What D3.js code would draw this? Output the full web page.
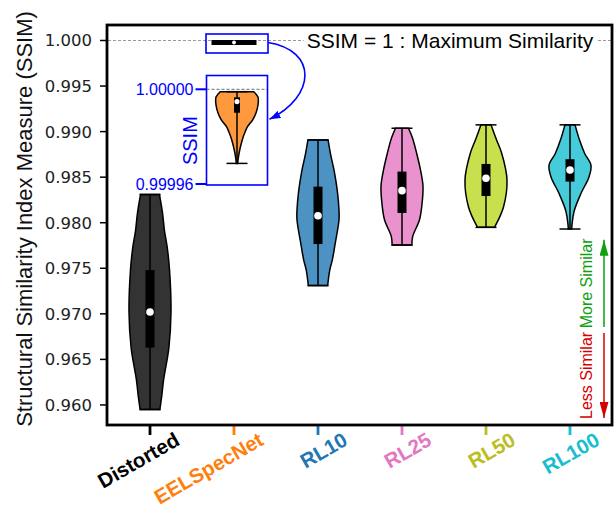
<!DOCTYPE html>
<html lang="en">
<head>
    <meta charset="UTF-8">
    <title>SSIM violins</title>
    <script src="https://d3js.org/d3.v7.min.js"></script>
    <style>
        body {
            margin: 0;
            background-color: white;
        }
        text {
            font-family: "Liberation Sans", Arial, sans-serif;
        }
        .ytick text {
            font-family: "DejaVu Sans", sans-serif;
            font-size: 16.5px;
        }
    </style>
</head>
<body>
    <div id="chart"></div>

    <script>
        // data
        const categories = ["Distorted", "EELSpecNet", "RL10", "RL25", "RL50", "RL100"];
        const tickColors = ["#000000", "#ff7f0e", "#1f77b4", "#e377c2", "#bcbd22", "#17becf"];
        const fillColors = ["#333333", "#ff993e", "#4c92c3", "#e992ce", "#c8df4e", "#45cbd9"];

        const mins    = [0.9595, 0.9999687, 0.9731,  0.97755, 0.97949, 0.97931];
        const q1s     = [0.9663, 0.9999901, 0.97766, 0.98107, 0.98293, 0.98451];
        const medians = [0.9702, 0.9999948, 0.98077, 0.98352, 0.98488, 0.98579];
        const q3s     = [0.9748, 0.9999966, 0.98396, 0.98561, 0.98645, 0.98697];
        const maxs    = [0.9831, 0.9999990, 0.98909, 0.99037, 0.99074, 0.99074];

        // violin outlines: [value, relative half width]
        const distortedProfile = [[0.9831, 0.45], [0.9810, 0.60], [0.9791, 0.69], [0.9773, 0.82], [0.9748, 0.93],
            [0.9702, 1.00], [0.9663, 0.90], [0.9628, 0.65], [0.9610, 0.56], [0.9595, 0.47]];
        const eelsProfile = [[0.9999990, 0.80], [0.9999967, 1.00], [0.9999934, 1.00], [0.9999899, 0.90],
            [0.9999870, 0.74], [0.9999842, 0.50], [0.9999814, 0.36], [0.9999786, 0.25], [0.9999731, 0.10], [0.9999687, 0.03]];
        const rl10Profile = [[0.98909, 0.48], [0.9875, 0.60], [0.9857, 0.77], [0.9835, 0.92], [0.9814, 1.00],
            [0.9803, 1.00], [0.9776, 0.81], [0.9759, 0.68], [0.9748, 0.56], [0.9731, 0.46]];
        const rl25Profile = [[0.99037, 0.31], [0.9893, 0.50], [0.9876, 0.70], [0.9858, 0.88], [0.9840, 1.00],
            [0.9820, 0.95], [0.9803, 0.83], [0.9785, 0.51], [0.97755, 0.47]];
        const rl50Profile = [[0.99074, 0.24], [0.9891, 0.50], [0.9876, 0.75], [0.9847, 1.00], [0.9817, 0.83],
            [0.9796, 0.43], [0.97949, 0.40]];
        const rl100Profile = [[0.99074, 0.24], [0.9891, 0.45], [0.9876, 0.70], [0.9863, 1.00], [0.9850, 0.90],
            [0.9832, 0.52], [0.9813, 0.20], [0.9799, 0.10], [0.97931, 0.08]];
        const profiles = [distortedProfile, eelsProfile, rl10Profile, rl25Profile, rl50Profile, rl100Profile];

        const yTicks = [0.960, 0.965, 0.970, 0.975, 0.980, 0.985, 0.990, 0.995, 1.000];
        const insetTicks = [0.99996, 1.00000];

        // direction arrows (SSIM values where they start and end)
        const moreSimilar = [0.96856, 0.97812];
        const lessSimilar = [0.96791, 0.95857];

        const width = 615;
        const height = 508;
        const margin = { top: 25, right: 3, bottom: 83, left: 108 };

        const svg = d3.select("#chart")
            .append("svg")
            .attr("width", width)
            .attr("height", height);

        const x = d3.scaleLinear()
            .domain([0.5, 6.5])
            .range([margin.left, width - margin.right]);

        const y = d3.scaleLinear()
            .domain([0.9578, 1.0017])
            .range([height - margin.bottom, margin.top]);

        const halfW = x(0.25) - x(0);
        const capW = x(0.125) - x(0);

        // arrow heads
        const defs = svg.append("defs");
        function addHead(id, color, w, l) {
            defs.append("marker")
                .attr("id", id)
                .attr("viewBox", `0 0 ${l} ${w}`)
                .attr("refX", l).attr("refY", w / 2)
                .attr("markerWidth", l).attr("markerHeight", w)
                .attr("markerUnits", "userSpaceOnUse")
                .attr("orient", "auto")
                .append("path")
                .attr("d", `M0,0 L${l},${w / 2} L0,${w} Z`)
                .attr("fill", color);
        }
        addHead("headBlue", "#0000ff", 8, 11);
        addHead("headGreen", "#10a010", 9, 16);
        addHead("headRed", "#d40000", 9, 16);

        // reference line at SSIM = 1
        svg.append("line")
            .attr("x1", margin.left).attr("x2", width - margin.right)
            .attr("y1", y(1)).attr("y2", y(1))
            .attr("stroke", "#999")
            .attr("stroke-width", 1.2)
            .attr("stroke-dasharray", "3,2");

        const note = svg.append("text")
            .attr("x", 450)
            .attr("y", y(1) + 7.5)
            .attr("text-anchor", "middle")
            .attr("font-size", "21px")
            .attr("fill", "black")
            .text("SSIM = 1 : Maximum Similarity");
        const nb = note.node().getBBox();
        svg.insert("rect", "text")
            .attr("x", nb.x - 3).attr("y", y(1) - 3)
            .attr("width", nb.width + 6).attr("height", 6)
            .attr("fill", "white");

        // violins
        function drawViolin(g, i, cx, ys) {
            const area = d3.area()
                .y(d => ys(d[0]))
                .x0(d => cx - d[1] * halfW)
                .x1(d => cx + d[1] * halfW)
                .curve(d3.curveCatmullRom);

            g.append("path")
                .attr("d", area(profiles[i]))
                .attr("fill", fillColors[i])
                .attr("stroke", "black")
                .attr("stroke-width", 1.5);

            g.append("line")
                .attr("x1", cx).attr("x2", cx)
                .attr("y1", ys(maxs[i])).attr("y2", ys(mins[i]))
                .attr("stroke", "black").attr("stroke-width", 1.5);

            [mins[i], maxs[i]].forEach(v => {
                g.append("line")
                    .attr("x1", cx - capW).attr("x2", cx + capW)
                    .attr("y1", ys(v)).attr("y2", ys(v))
                    .attr("stroke", "black").attr("stroke-width", 1.5);
            });

            g.append("rect")
                .attr("x", cx - 4.5).attr("width", 9)
                .attr("y", ys(q3s[i])).attr("height", ys(q1s[i]) - ys(q3s[i]))
                .attr("fill", "black");

            g.append("circle")
                .attr("cx", cx).attr("cy", ys(medians[i]))
                .attr("r", 3.8)
                .attr("fill", "white");
        }

        const plot = svg.append("g");
        categories.forEach((c, i) => {
            if (i === 1) return;
            drawViolin(plot, i, x(i + 1), y);
        });

        // EELSpecNet squashed at the top of the main axes
        const ex = x(2);
        const eTop = y(maxs[1]) - 0.5;
        svg.append("rect")
            .attr("x", ex - halfW - 1.5).attr("width", 2 * halfW + 3)
            .attr("y", eTop).attr("height", 5)
            .attr("fill", "black");
        svg.append("circle")
            .attr("cx", ex).attr("cy", eTop + 2.5)
            .attr("r", 1.9)
            .attr("fill", "white");

        svg.append("rect")
            .attr("x", ex - 28).attr("y", y(1) - 6.5)
            .attr("width", 62).attr("height", 19)
            .attr("fill", "none")
            .attr("stroke", "#0000ff")
            .attr("stroke-width", 1.6);

        // zoomed inset
        const inset = { left: ex - 27.5, right: ex + 33.5, top: 75.5, bottom: 185 };
        const yIn = d3.scaleLinear()
            .domain([0.99996, 1.00000])
            .range([184, 89.3]);
        const inG = svg.append("g");

        inG.append("line")
            .attr("x1", inset.left).attr("x2", inset.right)
            .attr("y1", yIn(1)).attr("y2", yIn(1))
            .attr("stroke", "#888")
            .attr("stroke-width", 1.2)
            .attr("stroke-dasharray", "3,2");

        drawViolin(inG, 1, inset.left + 30.5, yIn);
        inG.selectAll("rect").attr("x", inset.left + 30.5 - 3).attr("width", 6);
        inG.selectAll("circle").attr("r", 2.6);

        inG.append("rect")
            .attr("x", inset.left).attr("y", inset.top)
            .attr("width", inset.right - inset.left)
            .attr("height", inset.bottom - inset.top)
            .attr("fill", "none")
            .attr("stroke", "#0000ff")
            .attr("stroke-width", 1.6);

        insetTicks.forEach(t => {
            inG.append("line")
                .attr("x1", inset.left - 11).attr("x2", inset.left)
                .attr("y1", yIn(t)).attr("y2", yIn(t))
                .attr("stroke", "#0000ff").attr("stroke-width", 2);
            inG.append("text")
                .attr("x", inset.left - 13)
                .attr("y", yIn(t))
                .attr("dy", "0.36em")
                .attr("text-anchor", "end")
                .attr("font-size", "16px")
                .attr("fill", "#0000ff")
                .text(d3.format(".5f")(t));
        });

        inG.append("text")
            .attr("transform", `translate(${inset.left - 10},${(yIn(1) + yIn(0.99996)) / 2 + 4}) rotate(-90)`)
            .attr("text-anchor", "middle")
            .attr("font-size", "20px")
            .attr("fill", "#0000ff")
            .text("SSIM");

        // curved pointer from the squashed violin to the inset
        svg.append("path")
            .attr("d", `M${ex + 34},${y(1) + 2} C${ex + 84},${y(1) + 10} ${ex + 82},${y(1) + 56} ${inset.right + 2},${yIn(1) + 30}`)
            .attr("fill", "none")
            .attr("stroke", "#0000ff")
            .attr("stroke-width", 1.6)
            .attr("marker-end", "url(#headBlue)");

        // similarity direction arrows
        const ax = width - 11;
        svg.append("line")
            .attr("x1", ax).attr("x2", ax)
            .attr("y1", y(moreSimilar[0])).attr("y2", y(moreSimilar[1]))
            .attr("stroke", "#10a010").attr("stroke-width", 1.5)
            .attr("marker-end", "url(#headGreen)");
        svg.append("line")
            .attr("x1", ax).attr("x2", ax)
            .attr("y1", y(lessSimilar[0])).attr("y2", y(lessSimilar[1]))
            .attr("stroke", "#d40000").attr("stroke-width", 1.5)
            .attr("marker-end", "url(#headRed)");
        svg.append("text")
            .attr("transform", `translate(${ax - 12},${(y(moreSimilar[0]) + y(moreSimilar[1])) / 2}) rotate(-90)`)
            .attr("text-anchor", "middle")
            .attr("font-size", "16px")
            .attr("fill", "#10a010")
            .text("More Similar");
        svg.append("text")
            .attr("transform", `translate(${ax - 12},${(y(lessSimilar[0]) + y(lessSimilar[1])) / 2}) rotate(-90)`)
            .attr("text-anchor", "middle")
            .attr("font-size", "16px")
            .attr("fill", "#d40000")
            .text("Less Similar");

        // y axis
        const yAxis = svg.append("g");
        yTicks.forEach(t => {
            const g = yAxis.append("g").attr("class", "ytick");
            g.append("line")
                .attr("x1", margin.left - 8).attr("x2", margin.left)
                .attr("y1", y(t)).attr("y2", y(t))
                .attr("stroke", "black").attr("stroke-width", 1.5);
            g.append("text")
                .attr("x", margin.left - 16)
                .attr("y", y(t))
                .attr("dy", "0.36em")
                .attr("text-anchor", "end")
                .attr("fill", "#222")
                .text(d3.format(".3f")(t));
        });

        svg.append("text")
            .attr("transform", `translate(32,219) rotate(-90)`)
            .attr("text-anchor", "middle")
            .attr("font-size", "22px")
            .attr("fill", "#111")
            .text("Structural Similarity Index Measure (SSIM)");

        // x axis ticks and labels in category colours
        categories.forEach((c, i) => {
            const cx = x(i + 1);
            svg.append("line")
                .attr("x1", cx).attr("x2", cx)
                .attr("y1", height - margin.bottom).attr("y2", height - margin.bottom + 10)
                .attr("stroke", tickColors[i]).attr("stroke-width", 2.8);
            svg.append("text")
                .attr("transform", `translate(${cx + 31},${height - margin.bottom + 19}) rotate(-30)`)
                .attr("text-anchor", "end")
                .attr("font-size", "20.5px")
                .attr("font-weight", "bold")
                .attr("fill", tickColors[i])
                .text(c);
        });

        // frame
        svg.append("rect")
            .attr("x", margin.left - 1).attr("y", margin.top)
            .attr("width", width - margin.right - margin.left + 1)
            .attr("height", height - margin.bottom - margin.top)
            .attr("fill", "none")
            .attr("stroke", "black")
            .attr("stroke-width", 2.8);
    </script>
</body>
</html>
